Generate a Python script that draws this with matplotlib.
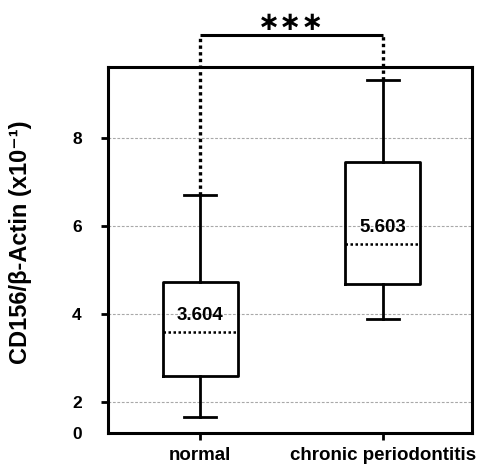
import matplotlib
matplotlib.use("Agg")
import matplotlib.pyplot as plt

plt.rcParams['font.family'] = ['Liberation Sans', 'DejaVu Sans']
plt.rcParams['font.weight'] = 'bold'

categories = ["normal", "chronic periodontitis"]
whislo = [1.66, 3.90]
q1 = [2.61, 4.68]
med = [3.604, 5.603]
q3 = [4.73, 7.47]
whishi = [6.72, 9.33]
med_labels = ["3.604", "5.603"]
ytick_vals = [2, 4, 6, 8]
ytick_labels = ["2", "4", "6", "8"]
sig_label = "∗∗∗"

fig = plt.figure(figsize=(4.79, 4.67), dpi=100)
ax = fig.add_axes([0.2255, 0.0734, 0.760, 0.7838])

positions = [1, 2]
stats = []
for i, c in enumerate(categories):
    stats.append(dict(label=c, whislo=whislo[i], q1=q1[i], med=med[i],
                      q3=q3[i], whishi=whishi[i], fliers=[]))

lw = 2.0
ax.bxp(stats, positions=positions, widths=0.41, capwidths=0.18,
       showfliers=False,
       boxprops=dict(color='black', linewidth=lw),
       whiskerprops=dict(color='black', linewidth=lw),
       capprops=dict(color='black', linewidth=lw),
       medianprops=dict(color='black', linewidth=1.8, linestyle=(0, (1, 1))),
       zorder=3)

ybot, ytop = 1.31, 9.63
ax.set_ylim(ybot, ytop)
ax.set_xlim(0.497, 2.487)

# gridlines
for v in ytick_vals:
    ax.axhline(v, color='#a8a8a8', linewidth=0.8, linestyle=(0, (2.5, 1.5)), zorder=1)

ax.set_yticks([ybot] + ytick_vals)
ax.set_yticklabels(["0"] + ytick_labels, fontsize=12.5, fontweight='bold')
ax.tick_params(axis='y', direction='out', length=5, width=2, pad=14)
ax.yaxis.get_major_ticks()[0].tick1line.set_visible(False)

ax.set_xticks(positions)
ax.set_xticklabels(categories, fontsize=13.5, fontweight='bold')
ax.tick_params(axis='x', direction='out', length=5, width=2, pad=5)

for s in ax.spines.values():
    s.set_linewidth(2.2)

# median value labels
for i in range(2):
    ax.annotate(med_labels[i], xy=(positions[i], med[i]), xytext=(0, 12),
                textcoords='offset points', ha='center', va='center',
                fontsize=13.5, fontweight='bold', zorder=4)

# significance bracket
ybr = 10.35
ax.plot([positions[0], positions[1]], [ybr, ybr], color='black', linewidth=2.2,
        clip_on=False, solid_capstyle='butt', zorder=5)
ax.plot([positions[0], positions[0]], [whishi[0], ybr], color='black', linewidth=2.4,
        linestyle=(0, (1, 1)), clip_on=False, zorder=5)
ax.plot([positions[1], positions[1]], [whishi[1], ybr], color='black', linewidth=2.4,
        linestyle=(0, (1, 1)), clip_on=False, zorder=5)
ax.text((positions[0] + positions[1]) / 2, 10.62, sig_label, ha='center', va='center',
        fontsize=19, fontweight='bold', family='DejaVu Sans', clip_on=False)

fig.text(21 / 479, 1 - 242 / 467, "CD156/β-Actin (x10⁻¹)", rotation=90,
         ha='center', va='center', fontsize=17, fontweight='bold',
         family=['Liberation Sans', 'DejaVu Sans'])

fig.savefig("out.png", dpi=100)
